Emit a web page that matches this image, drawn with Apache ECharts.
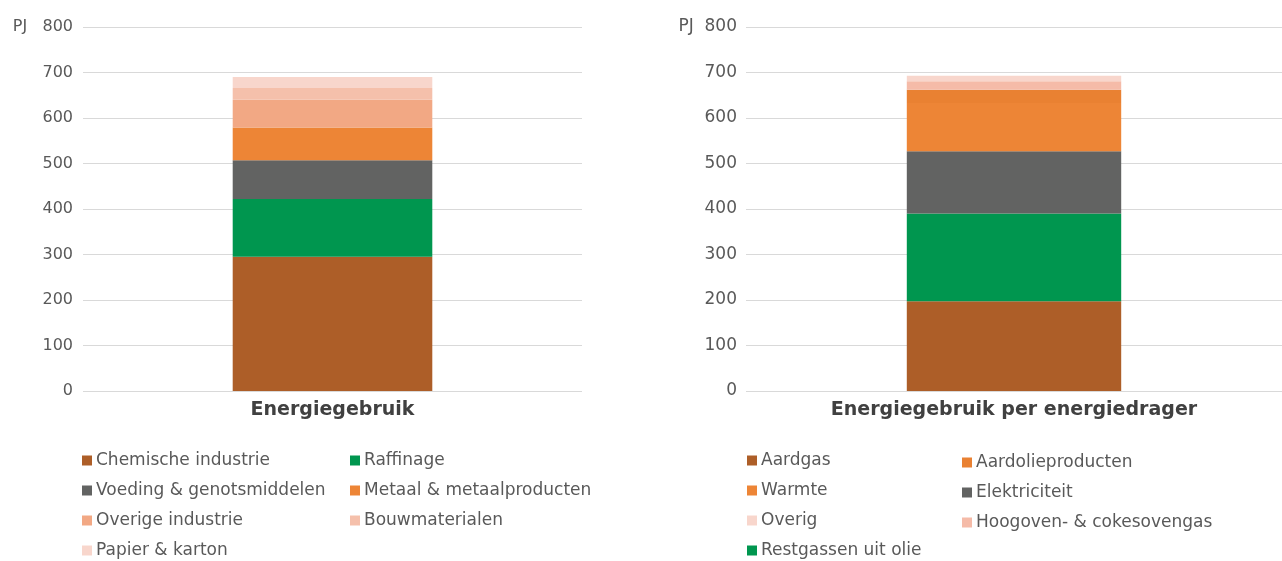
<!DOCTYPE html>
<html lang="nl">
<head>
  <meta charset="UTF-8">
  <title>Energiegebruik</title>
  <style>
    html, body { margin: 0; padding: 0; background: #fff; }
    #chart { width: 1282px; height: 561px; }
  </style>
</head>
<body>
  <div id="chart"></div>
  <script src="https://cdn.jsdelivr.net/npm/echarts@6/dist/echarts.min.js"></script>
  <script>
    // links: per sector (PJ)
    const sectorNames = ['Chemische industrie', 'Raffinage', 'Voeding & genotsmiddelen', 'Metaal & metaalproducten', 'Overige industrie', 'Bouwmaterialen', 'Papier & karton']
    const sectorValues = [295, 127, 85, 72, 61, 26, 24]
    const sectorColors = ['#ad5e28', '#00964f', '#626362', '#ed8536', '#f2a884', '#f5c0ab', '#f8d6cc']

    // rechts: per energiedrager (PJ)
    const dragerNames = ['Aardgas', 'Restgassen uit olie', 'Elektriciteit', 'Warmte', 'Aardolieproducten', 'Hoogoven- & cokesovengas', 'Overig']
    const dragerValues = [197, 193, 137, 106, 29, 19, 12]
    const dragerColors = ['#ad5e28', '#00964f', '#626362', '#ed8536', '#e98132', '#f5bba8', '#f8d6cc']

    const leftCategory = ['Energiegebruik']
    const rightCategory = ['Energiegebruik per energiedrager']
    const yTicks = { min: 0, max: 800, interval: 100 }

    const font = '"DejaVu Sans", sans-serif'
    const textColor = '#595959'

    const chart = echarts.init(document.getElementById('chart'))

    const grids = [
      { left: 83, width: 499, top: 27, bottom: 170 },
      { left: 746, width: 543, top: 27, bottom: 170 }
    ]

    const xAxes = [leftCategory, rightCategory].map((cat, i) => ({
      type: 'category',
      gridIndex: i,
      data: cat,
      axisLine: { show: false },
      axisTick: { show: false },
      axisLabel: { fontFamily: font, fontSize: 19, fontWeight: 'bold', color: '#404040', margin: 10 }
    }))

    // "PJ" staat links van de bovenste tick
    const unitGap = ['   ', '  ']
    const yAxes = [0, 1].map(i => ({
      type: 'value',
      gridIndex: i,
      min: yTicks.min,
      max: yTicks.max,
      interval: yTicks.interval,
      axisLine: { show: false },
      axisTick: { show: false },
      splitLine: { lineStyle: { color: '#d9d9d9', width: 1 } },
      axisLabel: {
        fontFamily: font, fontSize: 16 + i, color: textColor, margin: 10 - i,
        formatter: v => v === 800 ? 'PJ' + unitGap[i] + '800' : String(v)
      }
    }))

    const makeSeries = (names, values, colors, idx) => names.map((n, k) => ({
      name: n,
      type: 'bar',
      stack: 'tot' + idx,
      xAxisIndex: idx,
      yAxisIndex: idx,
      barWidth: '40%',
      itemStyle: { color: colors[k] },
      data: [values[k]]
    }))

    const series = [
      ...makeSeries(sectorNames, sectorValues, sectorColors, 0),
      ...makeSeries(dragerNames, dragerValues, dragerColors, 1)
    ]

    const legendBase = {
      orient: 'vertical',
      padding: 0,
      itemWidth: 10,
      itemHeight: 10,
      itemGap: 13,
      icon: 'rect',
      textStyle: { fontFamily: font, fontSize: 17, color: textColor, padding: [0, 0, 0, -1] },
      selectedMode: false
    }

    const legends = [
      { left: 82, top: 452, data: ['Chemische industrie', 'Voeding & genotsmiddelen', 'Overige industrie', 'Papier & karton'] },
      { left: 350, top: 452, data: ['Raffinage', 'Metaal & metaalproducten', 'Bouwmaterialen'] },
      { left: 747, top: 452, data: ['Aardgas', 'Warmte', 'Overig', 'Restgassen uit olie'] },
      { left: 962, top: 454, data: ['Aardolieproducten', 'Elektriciteit', 'Hoogoven- & cokesovengas'] }
    ].map(l => Object.assign({}, legendBase, l))

    chart.setOption({
      animation: false,
      grid: grids,
      xAxis: xAxes,
      yAxis: yAxes,
      legend: legends,
      series: series
    })
  </script>
</body>
</html>
